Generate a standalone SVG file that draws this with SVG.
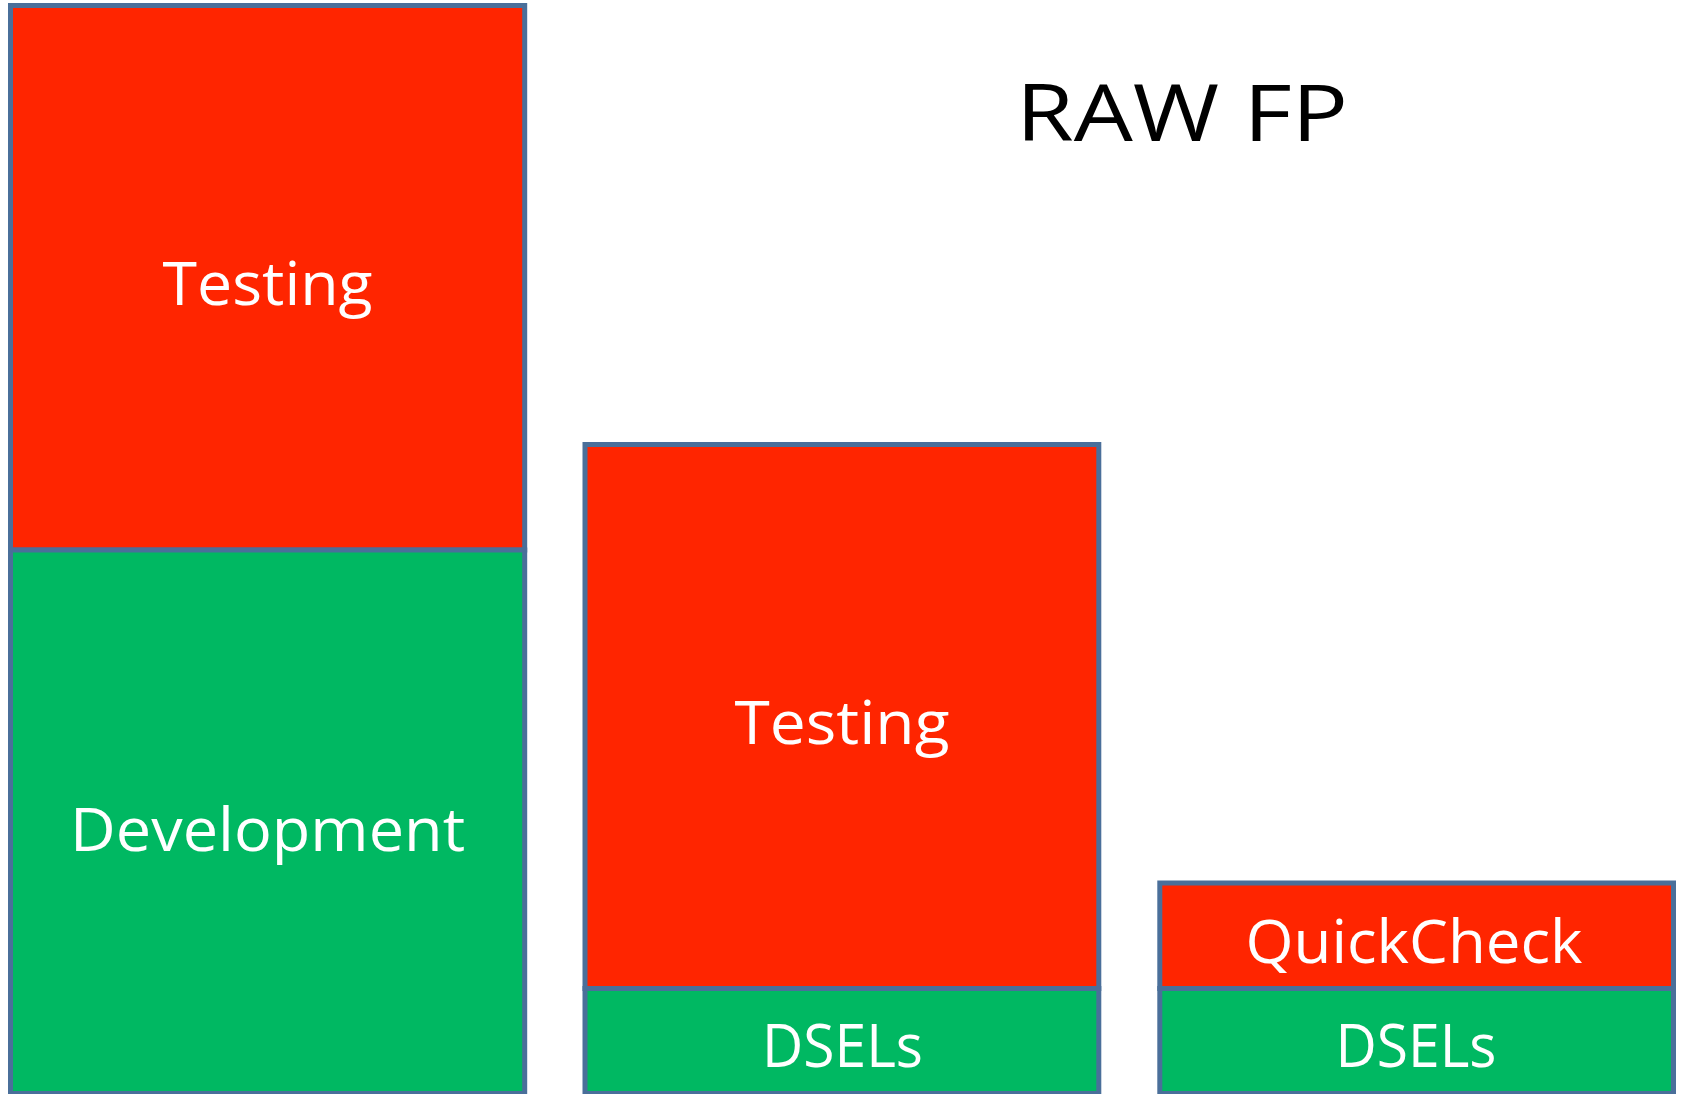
<svg xmlns="http://www.w3.org/2000/svg" width="1681" height="1094" viewBox="0 0 1681 1094">
  <style>
    .red { fill: #FF2500; stroke: #4A6F9A; stroke-width: 5; }
    .green { fill: #00B862; stroke: #4A6F9A; stroke-width: 5; }
    .lbl { font-family: "Open Sans", "Noto Sans", sans-serif; fill: #FFFFFF; text-anchor: middle; font-size: 61px; }
    .title { font-family: "Open Sans", "Noto Sans", sans-serif; fill: #000000; text-anchor: middle; font-size: 78px; }
  </style>
  <rect width="1681" height="1094" fill="#FFFFFF"/>

  <!-- title -->
  <text class="title" x="1182" y="141" textLength="332" lengthAdjust="spacingAndGlyphs">RAW FP</text>

  <!-- bar 1: testing over development -->
  <g id="bar1-testing">
    <rect class="red" x="10.5" y="5.5" width="514.2" height="544.5"/>
    <text class="lbl" x="267.6" y="305" textLength="210" lengthAdjust="spacingAndGlyphs">Testing</text>
  </g>
  <g id="bar1-development">
    <rect class="green" x="10.5" y="550" width="514.2" height="543.5"/>
    <text class="lbl" x="267.6" y="851" textLength="395" lengthAdjust="spacingAndGlyphs">Development</text>
  </g>

  <!-- bar 2: testing over DSELs -->
  <g id="bar2-testing">
    <rect class="red" x="585" y="444.5" width="513.8" height="544"/>
    <text class="lbl" x="842" y="744" textLength="215" lengthAdjust="spacingAndGlyphs">Testing</text>
  </g>
  <g id="bar2-dsels">
    <rect class="green" x="585" y="988.5" width="513.8" height="105"/>
    <text class="lbl" x="842.5" y="1067" textLength="161" lengthAdjust="spacingAndGlyphs">DSELs</text>
  </g>

  <!-- bar 3: QuickCheck over DSELs -->
  <g id="bar3-quickcheck">
    <rect class="red" x="1159.8" y="883" width="513.7" height="105.5"/>
    <text class="lbl" x="1414" y="963" textLength="337" lengthAdjust="spacingAndGlyphs">QuickCheck</text>
  </g>
  <g id="bar3-dsels">
    <rect class="green" x="1159.8" y="988.5" width="513.7" height="105"/>
    <text class="lbl" x="1416" y="1067" textLength="161" lengthAdjust="spacingAndGlyphs">DSELs</text>
  </g>

  <g id="connectors"/>
</svg>
